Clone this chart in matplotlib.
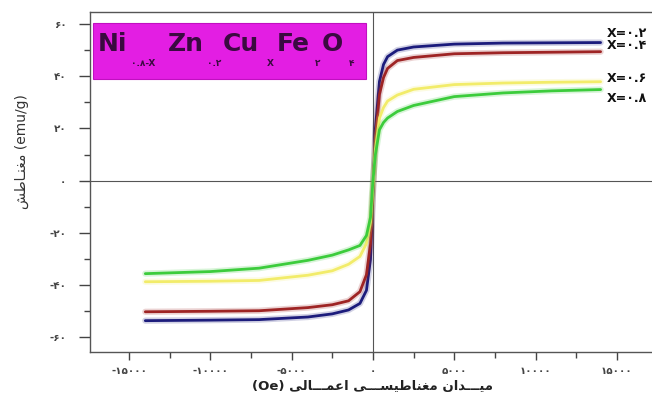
import matplotlib
matplotlib.use("Agg")
import matplotlib.pyplot as plt
from matplotlib.patches import Rectangle
from matplotlib.ticker import MultipleLocator

field = [-14000, -10000, -7000, -4000, -2500, -1500, -800, -400, -150, 0,
         150, 400, 650, 900, 1500, 2500, 5000, 8000, 11000, 14000]

# Magnetisation (emu/g) for each composition
m_02 = [-53.6, -53.4, -53.2, -52.2, -51.0, -49.5, -47.0, -42.0, -30.0, -5.0,
        20.0, 38.0, 44.5, 47.5, 50.0, 51.2, 52.3, 52.7, 52.8, 52.9]
m_04 = [-50.2, -50.0, -49.8, -48.6, -47.5, -46.0, -42.5, -36.0, -24.0, -4.0,
        16.0, 33.0, 39.5, 43.0, 46.0, 47.2, 48.6, 49.0, 49.2, 49.4]
m_06 = [-38.7, -38.5, -38.2, -36.2, -34.5, -32.0, -29.0, -24.0, -16.0, -2.0,
        12.0, 24.0, 28.0, 30.5, 32.8, 35.0, 36.8, 37.4, 37.7, 37.9]
m_08 = [-35.6, -34.8, -33.5, -30.5, -28.5, -26.5, -24.8, -21.0, -14.0, 0.0,
        10.0, 19.5, 22.3, 24.0, 26.5, 28.8, 32.2, 33.6, 34.4, 34.9]

series_labels = ["X=۰.۲", "X=۰.۴", "X=۰.۶", "X=۰.۸"]
label_y = [56.3, 51.7, 39.1, 31.4]
colors = ["#1c1c7c", "#9e2424", "#f2ec6a", "#3ccc3c"]

y_ticks = [-60, -40, -20, 0, 20, 40, 60]
y_ticklabels = ["-۶۰", "-۴۰", "-۲۰", "۰", "۲۰", "۴۰", "۶۰"]
x_ticks = [-15000, -10000, -5000, 0, 5000, 10000, 15000]
x_ticklabels = ["-۱۵۰۰۰", "-۱۰۰۰۰", "-۵۰۰۰", "۰", "۵۰۰۰", "۱۰۰۰۰", "۱۵۰۰۰"]


# minimal Persian shaping (matplotlib has no bidi / joining support)
FORMS = {
    "ا": ("\uFE8D", "\uFE8E", None, None),
    "د": ("\uFEA9", "\uFEAA", None, None),
    "ط": ("\uFEC1", "\uFEC2", "\uFEC3", "\uFEC4"),
    "ع": ("\uFEC9", "\uFECA", "\uFECB", "\uFECC"),
    "غ": ("\uFECD", "\uFECE", "\uFECF", "\uFED0"),
    "ل": ("\uFEDD", "\uFEDE", "\uFEDF", "\uFEE0"),
    "م": ("\uFEE1", "\uFEE2", "\uFEE3", "\uFEE4"),
    "ن": ("\uFEE5", "\uFEE6", "\uFEE7", "\uFEE8"),
    "س": ("\uFEB1", "\uFEB2", "\uFEB3", "\uFEB4"),
    "ش": ("\uFEB5", "\uFEB6", "\uFEB7", "\uFEB8"),
    "ی": ("\uFBFC", "\uFBFD", "\uFBFE", "\uFBFF"),
}
TATWEEL = "ـ"


def joins_left(ch):
    return ch == TATWEEL or (ch in FORMS and FORMS[ch][2] is not None)


def shape_word(word):
    out = []
    for i, ch in enumerate(word):
        if ch not in FORMS:
            out.append(ch)
            continue
        prev = word[i - 1] if i > 0 else ""
        nxt = word[i + 1] if i + 1 < len(word) else ""
        jp = joins_left(prev)
        jn = (nxt in FORMS or nxt == TATWEEL) and FORMS[ch][2] is not None
        iso, fin, ini, med = FORMS[ch]
        if jp and jn:
            out.append(med)
        elif jp:
            out.append(fin)
        elif jn:
            out.append(ini)
        else:
            out.append(iso)
    return "".join(reversed(out))


def shape(text):
    return " ".join(shape_word(w) for w in reversed(text.split(" ")))


fig = plt.figure(figsize=(6.52, 4.05), dpi=100)
W, H = 652, 405
ax = fig.add_axes([90 / W, 1 - 352 / H, 1 - 90 / W, 340 / H])

for m, c in zip([m_02, m_04, m_06, m_08], colors):
    ax.plot(field, m, color=c, lw=4.5, alpha=0.2, solid_capstyle="round")
    ax.plot(field, m, color=c, lw=2.0, solid_capstyle="round")

ax.axhline(0, color="#555555", lw=0.8, zorder=0)
ax.axvline(0, color="#555555", lw=0.8, zorder=0)

ax.set_xlim(-17400, 17160)
ax.set_ylim(-65.6, 64.6)

ax.set_xticks(x_ticks)
ax.set_xticklabels(x_ticklabels, fontweight="bold")
ax.set_yticks(y_ticks)
ax.set_yticklabels(y_ticklabels, fontweight="bold")
ax.xaxis.set_minor_locator(MultipleLocator(2500))
ax.yaxis.set_minor_locator(MultipleLocator(10))
ax.tick_params(which="major", direction="out", length=6, width=1, colors="#444444",
               labelsize=7.5, pad=4)
ax.tick_params(axis="y", which="major", length=8, pad=9)
ax.tick_params(which="minor", direction="out", length=4, width=1, colors="#444444")
ax.tick_params(top=False, right=False)

for s in ["left", "bottom", "top"]:
    ax.spines[s].set_color("#555555")
    ax.spines[s].set_linewidth(1.0)
ax.spines["right"].set_visible(False)

fig.text(372 / W, 1 - 386 / H, "(Oe) " + shape("میـــدان مغناطیســـی اعمـــالی"),
         ha="center", va="center", fontsize=9.5, fontweight="bold", color="#222222")
fig.text(22 / W, 1 - 152 / H, shape("مغنـاطش") + " (emu/g)", rotation=90,
         ha="center", va="center", fontsize=10, color="#333333")

for lab, yv in zip(series_labels, label_y):
    ax.text(14390, yv, lab, fontsize=9, fontweight="bold", color="#111111",
            ha="left", va="center", clip_on=False)

# formula box
fig.patches.append(Rectangle((93 / W, 1 - 79 / H), (366 - 93) / W, (79 - 23) / H,
                             transform=fig.transFigure, facecolor="#e31ee3",
                             edgecolor="#c010c0", lw=0.8, zorder=5))
main_parts = [("Ni", 98), ("Zn", 168), ("Cu", 223), ("Fe", 277), ("O", 322)]
sub_parts = [("۰.۸-X", 131), ("۰.۲", 207), ("X", 267), ("۲", 315), ("۴", 349)]
for t, px in main_parts:
    fig.text(px / W, 1 - 44 / H, t, fontsize=18, fontweight="bold", color="#3a0a40",
             ha="left", va="center", zorder=6)
for t, px in sub_parts:
    fig.text(px / W, 1 - 63 / H, t, fontsize=6.5, fontweight="bold", color="#3a0a40",
             ha="left", va="center", zorder=6)

fig.savefig("out.png", dpi=100)
